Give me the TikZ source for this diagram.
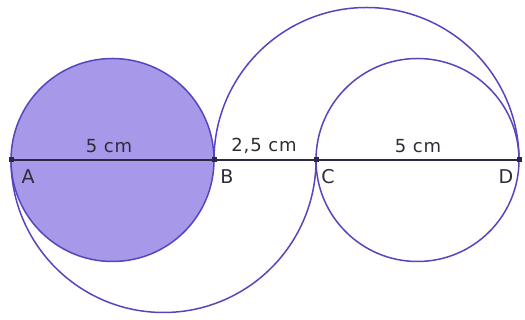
\documentclass[tikz,border=0pt]{standalone}
\usepackage{fontspec}
\setmainfont{DejaVu Sans}[LetterSpace=5]
\definecolor{fillp}{RGB}{168,152,234}
\definecolor{strokep}{RGB}{85,70,190}
\definecolor{segc}{RGB}{45,40,65}
\definecolor{txtc}{RGB}{45,45,55}
\begin{document}
\begin{tikzpicture}[x=1pt,y=1pt,
  circ/.style={draw=strokep,line width=1.5pt},
  seg/.style={draw=segc,line width=1.6pt},
  pt/.style={fill=segc,minimum size=5pt,inner sep=0pt,rectangle},
  meas/.style={text=txtc,font=\fontsize{18}{18}\selectfont,inner sep=0pt},
  lbl/.style={text=txtc,font=\fontsize{19}{19}\selectfont,inner sep=0pt}]
\useasboundingbox (0,0) rectangle (525,320);
\coordinate (A) at (11,160);
\coordinate (B) at (214,160);
\coordinate (C) at (316,160);
\coordinate (D) at (519,160);
% filled circle on AB
\path[circ,fill=fillp] (112.5,160) circle[radius=101.5];
% lower semicircle on AC
\draw[circ] (A) arc[start angle=180,end angle=360,radius=152.5];
% upper semicircle on BD
\draw[circ] (B) arc[start angle=180,end angle=0,radius=152.5];
% circle on CD
\draw[circ] (417.5,160) circle[radius=101.5];
% segment
\draw[seg] (A) -- (B) -- (C) -- (D);
\node[pt] (pA) at (A) {};
\node[pt] (pB) at (B) {};
\node[pt] (pC) at (C) {};
\node[pt] (pD) at (D) {};
\node[meas] (m1) at (109,174) {5 cm};
\node[meas] (m2) at (264,174) {2,5 cm};
\node[meas] (m3) at (418,174) {5 cm};
\node[lbl] (lA) at (28,143) {A};
\node[lbl] (lB) at (227,143) {B};
\node[lbl] (lC) at (328,143) {C};
\node[lbl] (lD) at (506,143) {D};
\end{tikzpicture}
\end{document}
